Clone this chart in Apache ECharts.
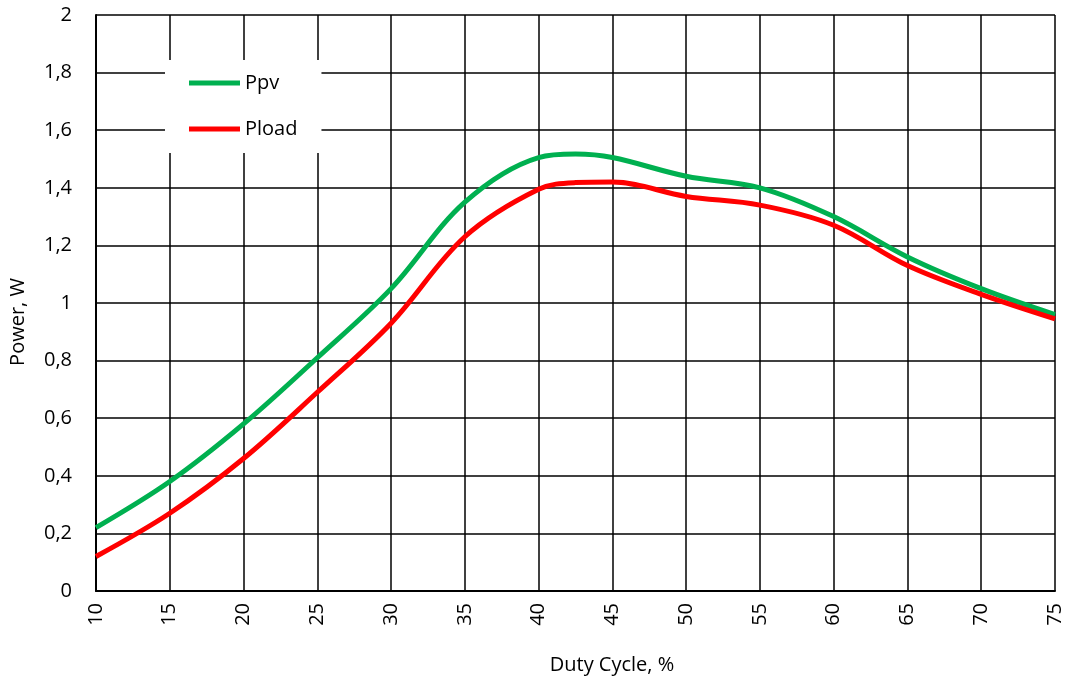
<!DOCTYPE html>
<html><head><meta charset="utf-8">
<script src="https://cdn.jsdelivr.net/npm/echarts@6/dist/echarts.min.js"></script>
<style>html,body{margin:0;padding:0;background:#fff}#c{width:1067px;height:681px}</style>
</head><body><div id="c"></div>
<script>
const duty = [10, 15, 20, 25, 30, 35, 40, 42.5, 45, 50, 55, 60, 65, 70, 75];
const ppv = [0.22, 0.38, 0.58, 0.81, 1.05, 1.35, 1.505, 1.517, 1.505, 1.44, 1.40, 1.30, 1.16, 1.05, 0.96];
const pload = [0.12, 0.27, 0.46, 0.69, 0.93, 1.23, 1.395, 1.418, 1.42, 1.37, 1.34, 1.27, 1.13, 1.03, 0.945];
const seriesNames = ['Ppv', 'Pload'];
const xTitle = 'Duty Cycle, %';
const yTitle = 'Power, W';

const font = '"Open Sans", sans-serif';
const fs = 20;
const chart = echarts.init(document.getElementById('c'));
chart.setOption({
  animation: false,
  backgroundColor: '#fff',
  grid: {left: 96, right: 12, top: 15, bottom: 90},
  legend: {
    orient: 'vertical', left: 165, top: 60,
    backgroundColor: '#fff',
    padding: [13, 24, 14, 24],
    itemWidth: 51, itemHeight: 5, itemGap: 26,
    icon: 'rect',
    textStyle: {fontFamily: font, fontSize: fs, color: '#000', lineHeight: 20},
    data: seriesNames
  },
  title: [
    {text: xTitle, left: 607, top: 650, textAlign: 'center',
     textStyle: {fontFamily: font, fontSize: fs, fontWeight: 'normal', color: '#000'}}
  ],
  graphic: [{
    type: 'text', x: 18, y: 322, rotation: Math.PI / 2,
    style: {text: yTitle, font: fs + 'px ' + font, fill: '#000', textAlign: 'center', textVerticalAlign: 'middle'}
  }],
  xAxis: {
    type: 'value', min: 10, max: 75, interval: 5,
    axisLine: {show: true, lineStyle: {color: '#000', width: 2}},
    axisTick: {show: false},
    splitLine: {show: true, lineStyle: {color: '#000', width: 1.5}},
    axisLabel: {rotate: 90, fontFamily: font, fontSize: fs, color: '#000', margin: 12}
  },
  yAxis: {
    type: 'value', min: 0, max: 2, interval: 0.2,
    axisLine: {show: true, lineStyle: {color: '#000', width: 2}},
    axisTick: {show: false},
    splitLine: {show: true, lineStyle: {color: '#000', width: 1.5}},
    axisLabel: {fontFamily: font, fontSize: fs, color: '#000', margin: 24,
      formatter: v => (Math.round(v * 10) / 10).toString().replace('.', ',')}
  },
  series: [
    {name: seriesNames[0], type: 'line', smooth: 0.35, symbol: 'none',
     lineStyle: {color: '#00B050', width: 5}, itemStyle: {color: '#00B050'},
     data: duty.map((d, i) => [d, ppv[i]])},
    {name: seriesNames[1], type: 'line', smooth: 0.35, symbol: 'none',
     lineStyle: {color: '#FF0000', width: 5}, itemStyle: {color: '#FF0000'},
     data: duty.map((d, i) => [d, pload[i]])}
  ]
});
</script></body></html>
